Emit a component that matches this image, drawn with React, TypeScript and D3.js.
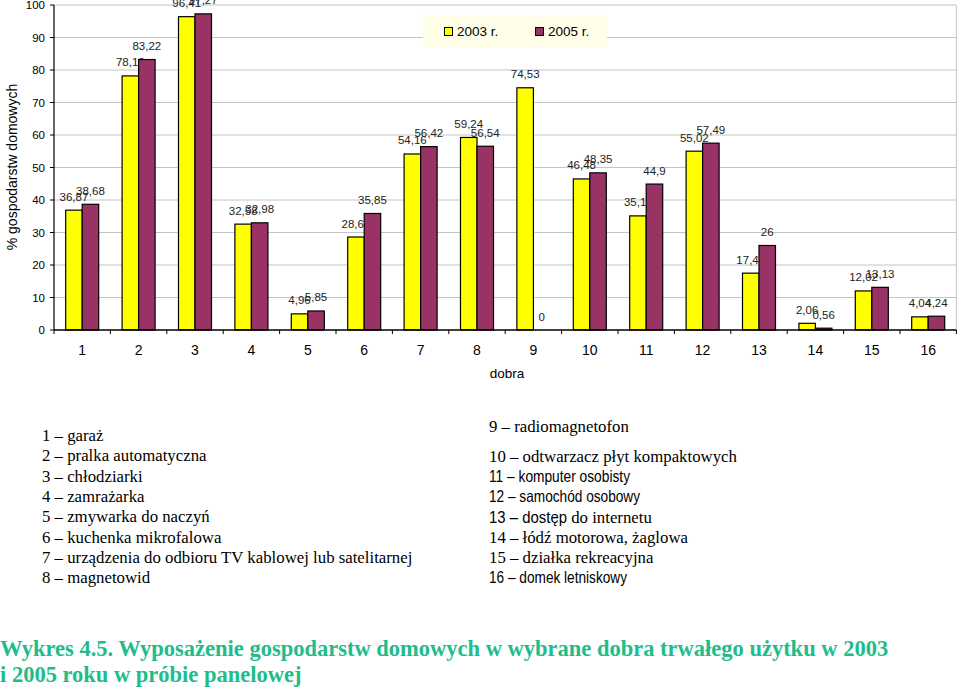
import * as d3 from 'd3';

const categories = ['1', '2', '3', '4', '5', '6', '7', '8', '9', '10', '11', '12', '13', '14', '15', '16'];
const seriesNames = ['2003 r.', '2005 r.'];
const values2003 = [36.87, 78.18, 96.41, 32.58, 4.96, 28.61, 54.16, 59.24, 74.53, 46.48, 35.11, 55.02, 17.49, 2.06, 12.02, 4.04];
const values2005 = [38.68, 83.22, 97.27, 32.98, 5.85, 35.85, 56.42, 56.54, 0, 48.35, 44.9, 57.49, 26, 0.56, 13.13, 4.24];
const yTicks = [0, 10, 20, 30, 40, 50, 60, 70, 80, 90, 100];
const colors = ['#ffff00', '#993366'];

type Part = { t: string; sans?: number };
const leftLegend: Part[][] = [
  [{ t: '1 – garaż' }],
  [{ t: '2 – pralka automatyczna' }],
  [{ t: '3 – chłodziarki' }],
  [{ t: '4 – zamrażarka' }],
  [{ t: '5 – zmywarka do naczyń' }],
  [{ t: '6 – kuchenka mikrofalowa' }],
  [{ t: '7 – urządzenia do odbioru TV kablowej lub satelitarnej' }],
  [{ t: '8 – magnetowid' }],
];
const rightLegend: Part[][] = [
  [{ t: '9 – radiomagnetofon' }],
  [{ t: '10 – odtwarzacz płyt kompaktowych' }],
  [{ t: '11 – komputer osobisty', sans: 141 }],
  [{ t: '12 – samochód osobowy', sans: 151 }],
  [{ t: '13 – dostęp', sans: 78 }, { t: ' do internetu' }],
  [{ t: '14 – łódź motorowa, żaglowa' }],
  [{ t: '15 – działka rekreacyjna' }],
  [{ t: '16 – domek letniskowy', sans: 138 }],
];
const captionLines = [
  'Wykres 4.5. Wyposażenie gospodarstw domowych w wybrane dobra trwałego użytku w 2003',
  'i 2005 roku w próbie panelowej',
];

const W = 959;
const H = 690;
const plot = { left: 54, right: 956.4, top: 5, bottom: 330 };
const sansFont = '"Liberation Sans", Arial, sans-serif';
const serifFont = '"Liberation Serif", "Times New Roman", serif';

function LegendLine({ parts, x, y }: { parts: Part[]; x: number; y: number }) {
  let cx = x;
  return (
    <g>
      {parts.map((p, j) => {
        const px = cx;
        if (p.sans) cx += p.sans;
        return p.sans ? (
          <text
            key={j}
            x={px}
            y={y}
            fontSize={16.5}
            fontFamily={sansFont}
            textLength={p.sans}
            lengthAdjust="spacingAndGlyphs"
            fill="#000"
          >
            {p.t}
          </text>
        ) : (
          <text key={j} x={px} y={y} fontSize={16.8} fontFamily={serifFont} fill="#000" xmlSpace="preserve">
            {p.t}
          </text>
        );
      })}
    </g>
  );
}

export default function App() {
  const x = d3.scaleBand<string>().domain(categories).range([plot.left, plot.right]).padding(0);
  const xInner = d3
    .scaleBand<string>()
    .domain(seriesNames)
    .range([0, x.bandwidth()])
    .paddingInner(0)
    .paddingOuter(0.709);
  const y = d3.scaleLinear().domain([0, 100]).range([plot.bottom, plot.top]);
  const series = [values2003, values2005];
  const fmt = (v: number) => String(v).replace('.', ',');

  return (
    <svg
      width={W}
      height={H}
      style={{ position: 'absolute', left: 0, top: 0, background: '#fff' }}
      fontFamily={sansFont}
    >
      {/* grid */}
      {yTicks.slice(1).map((t) => (
        <line key={t} x1={plot.left} x2={plot.right} y1={y(t)} y2={y(t)} stroke="#c4c4c4" strokeWidth={1} />
      ))}
      <line x1={plot.right} x2={plot.right} y1={plot.top} y2={plot.bottom} stroke="#c4c4c4" />

      {/* legend */}
      <rect x={423} y={15} width={184} height={32} fill="#fefee9" />
      {seriesNames.map((s, i) => (
        <g key={s} transform={`translate(${444 + i * 91},0)`}>
          <rect x={0.5} y={27.5} width={8} height={8} fill={colors[i]} stroke="#000" />
          <text x={13} y={36} fontSize={13.5} fill="#000">{s}</text>
        </g>
      ))}

      {/* bars */}
      {series.map((vals, si) =>
        categories.map((c, ci) => {
          const bx = (x(c) ?? 0) + (xInner(seriesNames[si]) ?? 0);
          const bw = xInner.bandwidth();
          const top = y(vals[ci]);
          return (
            <g key={`${si}-${ci}`}>
              {vals[ci] > 0 && (
                <rect
                  x={bx}
                  y={top}
                  width={bw}
                  height={plot.bottom - top}
                  fill={colors[si]}
                  stroke="#000"
                  strokeWidth={1.2}
                />
              )}
              <text x={bx + bw / 2} y={top - 9.5} fontSize={11.5} textAnchor="middle" fill="#222">
                {fmt(vals[ci])}
              </text>
            </g>
          );
        })
      )}

      {/* axes */}
      <line x1={plot.left} x2={plot.left} y1={plot.top} y2={plot.bottom} stroke="#000" strokeWidth={1.2} />
      <line x1={plot.left} x2={plot.right} y1={plot.bottom} y2={plot.bottom} stroke="#000" strokeWidth={1.5} />
      {yTicks.map((t) => (
        <g key={t}>
          <line x1={plot.left - 4} x2={plot.left} y1={y(t)} y2={y(t)} stroke="#000" />
          <text x={45} y={y(t) + 4} fontSize={11.5} textAnchor="end" fill="#000">{t}</text>
        </g>
      ))}
      {categories.map((c) => (
        <line key={c} x1={x(c)} x2={x(c)} y1={plot.bottom} y2={plot.bottom + 4} stroke="#000" />
      ))}
      <line x1={plot.right} x2={plot.right} y1={plot.bottom} y2={plot.bottom + 4} stroke="#000" />
      {categories.map((c) => (
        <text key={c} x={(x(c) ?? 0) + x.bandwidth() / 2} y={355} fontSize={14} textAnchor="middle" fill="#000">
          {c}
        </text>
      ))}
      <text x={507} y={378} fontSize={13.5} textAnchor="middle" fill="#000">dobra</text>
      <text transform={`translate(17,167) rotate(-90)`} fontSize={14} textAnchor="middle" fill="#000">
        % gospodarstw domowych
      </text>

      {/* item legend */}
      {leftLegend.map((parts, i) => (
        <LegendLine key={i} parts={parts} x={42} y={441 + i * 20.3} />
      ))}
      {rightLegend.map((parts, i) => (
        <LegendLine key={i} parts={parts} x={489} y={i === 0 ? 432 : 462 + (i - 1) * 20.2} />
      ))}

      {/* caption */}
      {captionLines.map((l, i) => (
        <text
          key={i}
          x={0}
          y={656 + i * 26}
          fontSize={22.5}
          fontWeight="bold"
          fontFamily={serifFont}
          fill="#20bd8b"
        >
          {l}
        </text>
      ))}
    </svg>
  );
}
